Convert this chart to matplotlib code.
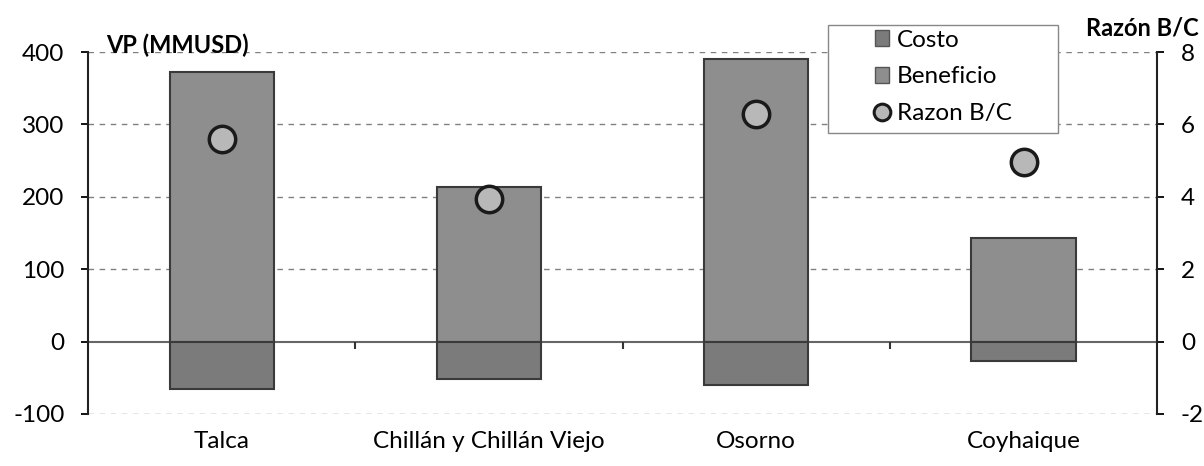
import numpy as np
import matplotlib.pyplot as plt
from matplotlib.lines import Line2D
from matplotlib.patches import Patch, Rectangle

plt.rcParams['font.family'] = ['Lato', 'DejaVu Sans']
plt.rcParams['axes.unicode_minus'] = False

# data
ciudades = ['Talca', 'Chillán y Chillán Viejo', 'Osorno', 'Coyhaique']
costo = [-65, -51, -60, -27]
beneficio = [372, 214, 390, 143]
razon_bc = [5.6, 3.95, 6.3, 4.95]

x = np.arange(len(ciudades))
col_costo = '#7b7b7b'
col_benef = '#8e8e8e'
fs = 17.5

fig = plt.figure(figsize=(12.04, 4.66), dpi=100)
ax = fig.add_axes([0.0731, 0.1116, 0.888, 0.7768])

# dashed gridlines (drawn under the bars)
for yv in [-100, 100, 200, 300, 400]:
    ax.axhline(yv, color='#808080', lw=1, ls=(0, (4, 4)), zorder=0)
ax.axhline(0, color='#666666', lw=1.5, zorder=0.5)

ax.bar(x, beneficio, width=0.39, color=col_benef, edgecolor='#3a3a3a', lw=1.5, zorder=2)
ax.bar(x, costo, width=0.39, color=col_costo, edgecolor='#3a3a3a', lw=1.5, zorder=2)

# small tick marks between categories on the zero line
ax.vlines(x[:-1] + 0.5, -10, 0, color='#333333', lw=1.5, zorder=1)

ax.set_xlim(-0.5, len(ciudades) - 0.5)
ax.set_ylim(-100, 400)
ax.set_yticks([-100, 0, 100, 200, 300, 400])
ax.set_xticks(x)
ax.set_xticklabels(ciudades, fontsize=fs)
ax.tick_params(axis='x', length=0, pad=12)
ax.tick_params(axis='y', labelsize=fs, length=5, width=1.3, direction='out', pad=12)
for s in ['top', 'bottom', 'right']:
    ax.spines[s].set_visible(False)
ax.spines['left'].set_linewidth(1.5)
ax.spines['left'].set_color('#222222')

ax2 = ax.twinx()
ax2.plot(x, razon_bc, 'o', ms=19, mfc='#b8b8b8', mec='#1a1a1a', mew=2.5, zorder=5)
ax2.set_ylim(-2, 8)
ax2.set_yticks([-2, 0, 2, 4, 6, 8])
ax2.tick_params(axis='y', labelsize=fs, length=5, width=1.3, direction='out', pad=12)
for s in ['top', 'bottom', 'left']:
    ax2.spines[s].set_visible(False)
ax2.spines['right'].set_linewidth(1.5)
ax2.spines['right'].set_color('#222222')

fig.text(0.088, 0.903, 'VP (MMUSD)', fontsize=17, fontweight='bold', va='center')
fig.text(0.996, 0.94, 'Razón B/C', fontsize=17, fontweight='bold', va='center', ha='right')

# legend box drawn separately so the entries sit centred inside it
box = Rectangle((0.688, 0.7146), 0.191, 0.2318, transform=fig.transFigure,
                facecolor='white', edgecolor='#888888', lw=1, zorder=10, clip_on=False)
ax2.add_artist(box)

handles = [Patch(facecolor=col_costo, edgecolor='#555555'),
           Patch(facecolor=col_benef, edgecolor='#555555'),
           Line2D([], [], ls='', marker='o', ms=12, mfc='#b8b8b8', mec='#1a1a1a', mew=2.2)]
leg = ax2.legend(handles, ['Costo', 'Beneficio', 'Razon B/C'],
                 loc='upper left', bbox_to_anchor=(0.736, 1.062),
                 fontsize=fs, frameon=False, borderpad=0,
                 handlelength=0.6, handleheight=0.6, handletextpad=0.3, labelspacing=0.65,
                 borderaxespad=0)
leg.set_zorder(11)

fig.savefig('out.png', dpi=100)
